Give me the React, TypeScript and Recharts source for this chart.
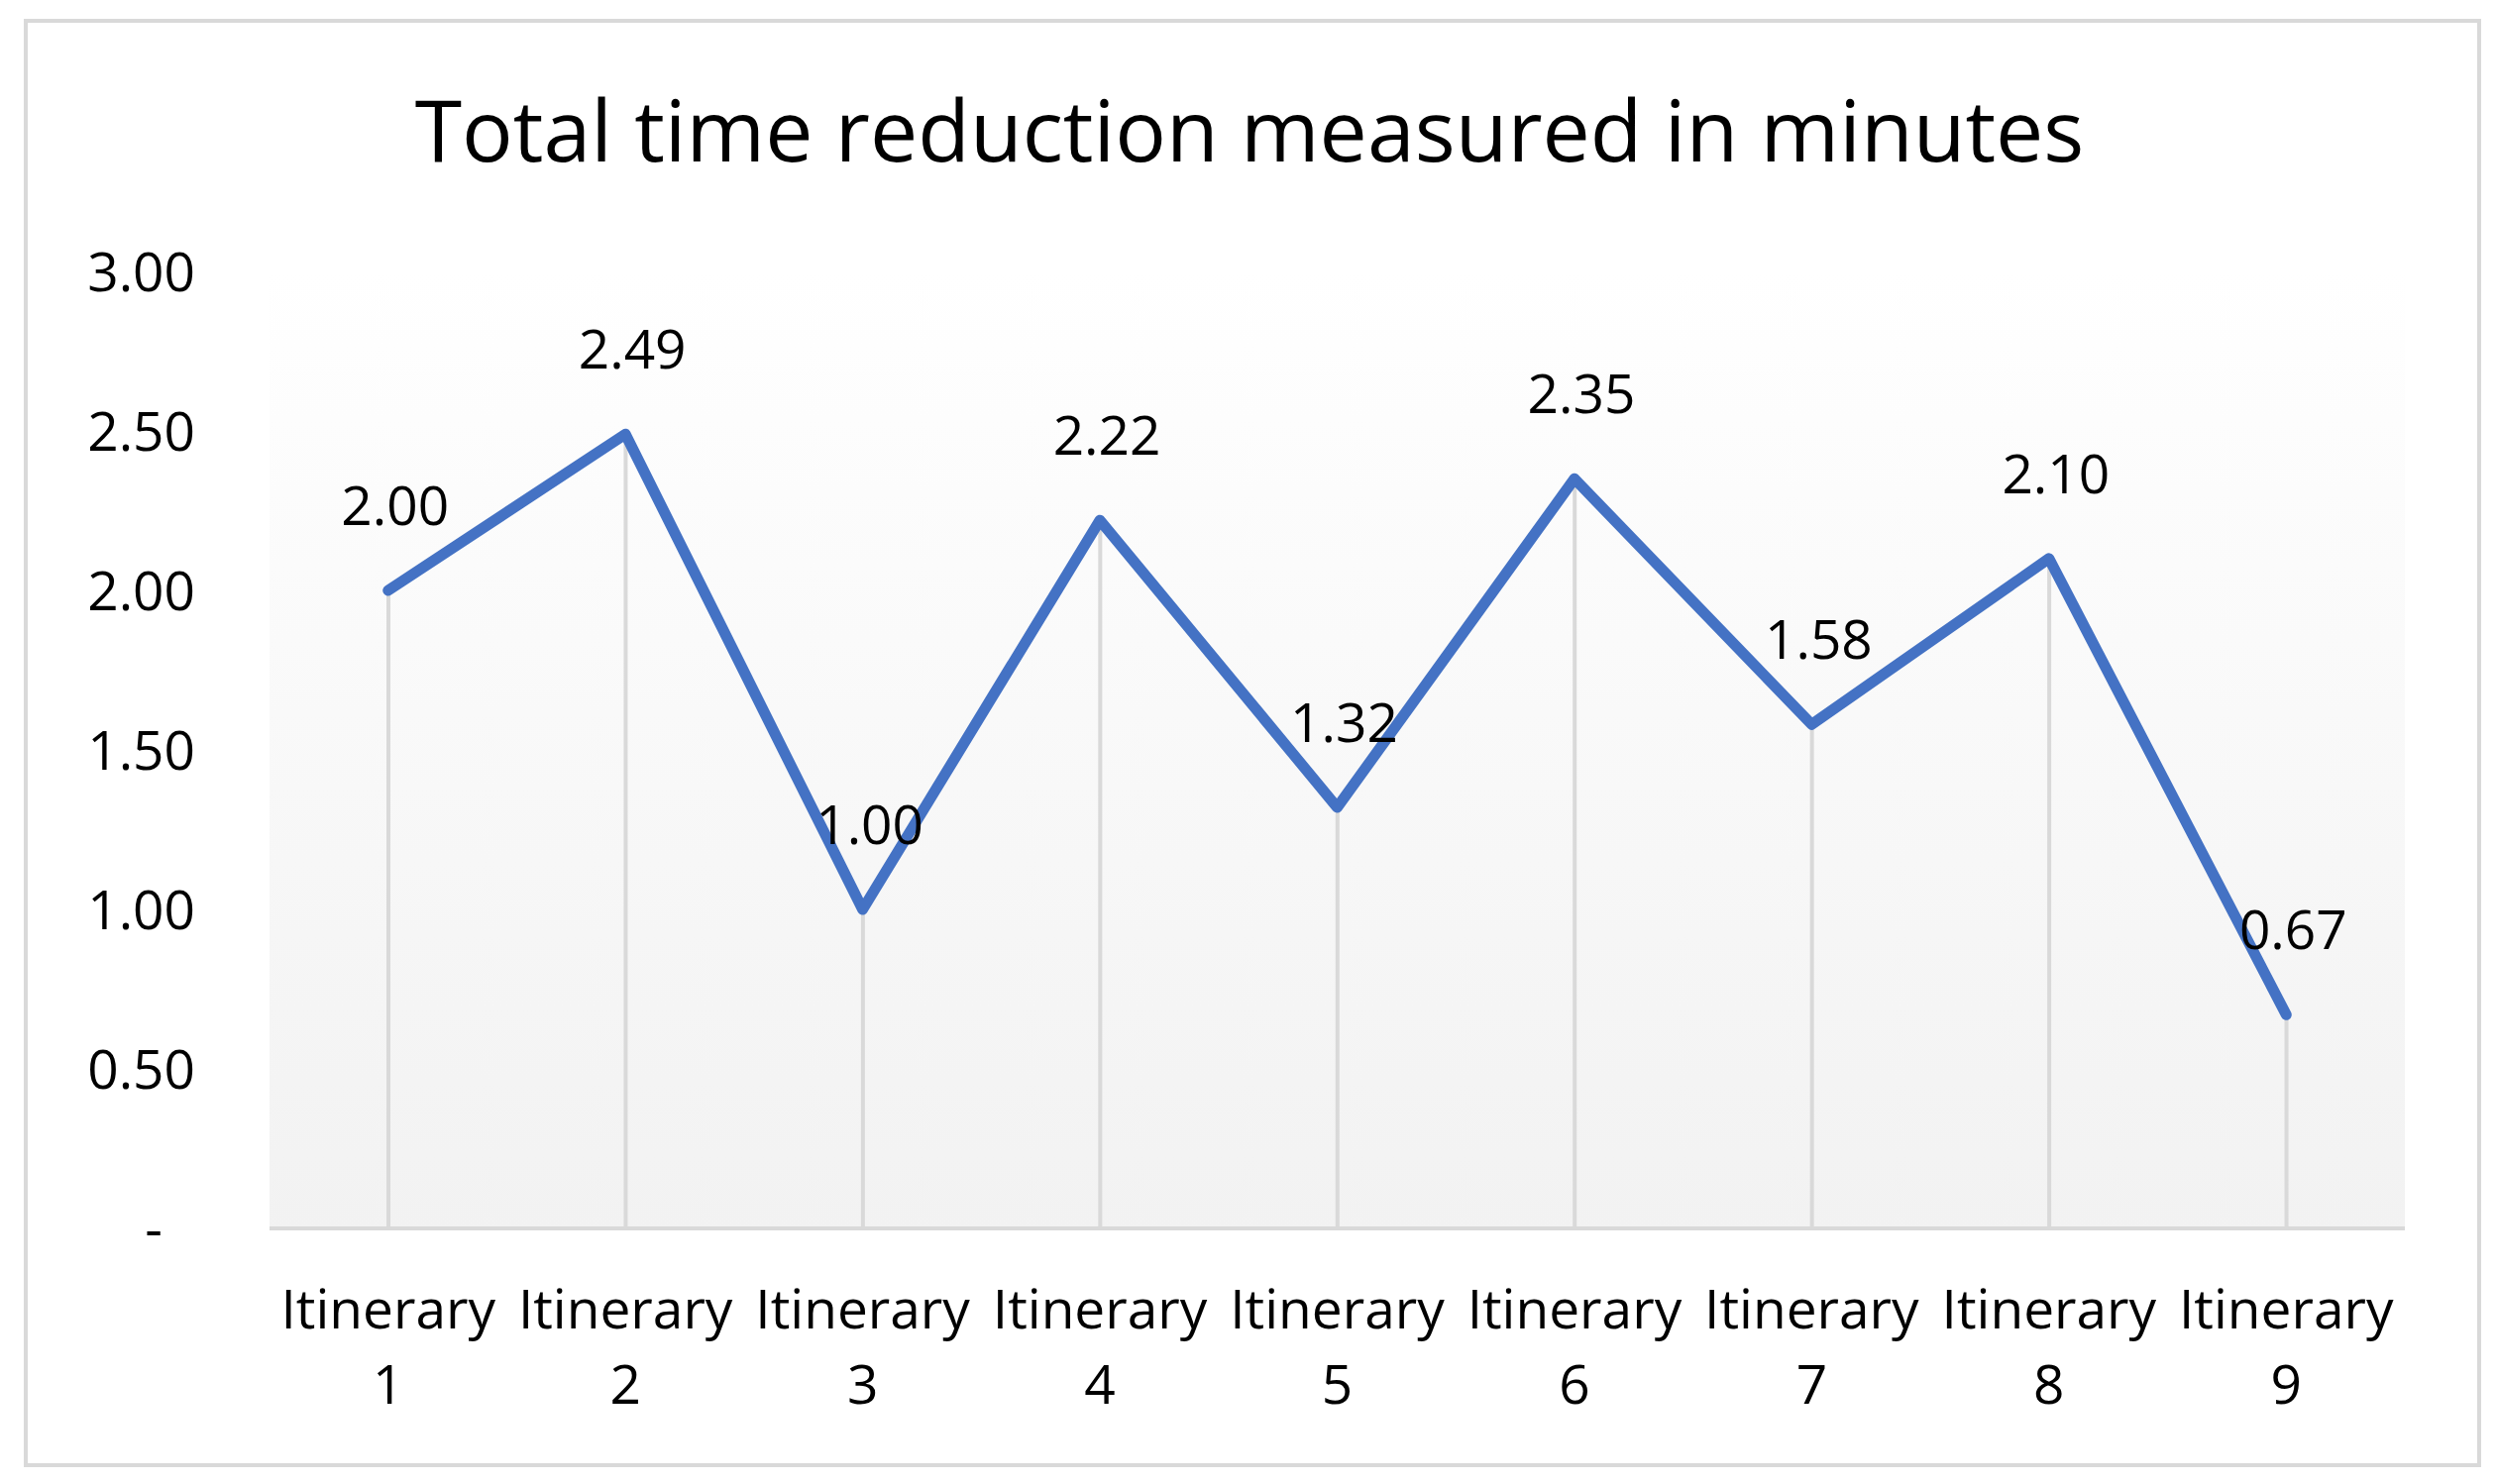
import React from 'react';
import {
  ComposedChart,
  Line,
  Bar,
  XAxis,
  YAxis,
  CartesianGrid,
  LabelList,
} from 'recharts';

const categories = [
  'Itinerary 1',
  'Itinerary 2',
  'Itinerary 3',
  'Itinerary 4',
  'Itinerary 5',
  'Itinerary 6',
  'Itinerary 7',
  'Itinerary 8',
  'Itinerary 9',
];
const reductions = [2.0, 2.49, 1.0, 2.22, 1.32, 2.35, 1.58, 2.1, 0.67];
const yTicks = [0, 0.5, 1, 1.5, 2, 2.5, 3];
const chartTitle = 'Total time reduction measured in minutes';

const data = categories.map((name, i) => ({ name, value: reductions[i] }));

const FONT = "'Open Sans', 'Noto Sans', sans-serif";

function YTick(props: any) {
  const { x, y, payload } = props;
  const v = payload.value as number;
  if (v === 0) {
    return (
      <text x={x - 33} y={y} dy="0.355em" textAnchor="end" fontSize={55} fontFamily={FONT} fill="#000">
        -
      </text>
    );
  }
  return (
    <text x={x} y={y} dy="0.355em" textAnchor="end" fontSize={55} fontFamily={FONT} fill="#000">
      {v.toFixed(2)}
    </text>
  );
}

function XTick(props: any) {
  const { x, y, payload } = props;
  const parts = String(payload.value).split(' ');
  return (
    <g>
      <text x={x} y={y + 101} textAnchor="middle" fontSize={55} fontFamily={FONT} fill="#000">
        {parts[0]}
      </text>
      <text x={x} y={y + 177} textAnchor="middle" fontSize={55} fontFamily={FONT} fill="#000">
        {parts[1]}
      </text>
    </g>
  );
}

function ValueLabel(props: any) {
  const x = props.x ?? props.viewBox?.x;
  const y = props.y ?? props.viewBox?.y;
  const w = props.width ?? 0;
  if (x == null || y == null) return null;
  return (
    <text x={x + w / 2 + 7} y={y - 66} textAnchor="middle" fontSize={55} fontFamily={FONT} fill="#000">
      {Number(props.value).toFixed(2)}
    </text>
  );
}

export default function App() {
  return (
    <div style={{ position: 'absolute', left: 0, top: 0, width: 2520, height: 1498, background: '#fff' }}>
      <div
        style={{
          position: 'absolute',
          left: 24,
          top: 19,
          width: 2480,
          height: 1462,
          boxSizing: 'border-box',
          border: '4px solid #d9d9d9',
        }}
      />
      <div style={{ position: 'absolute', left: 0, top: 0 }}>
        <ComposedChart
          width={2520}
          height={1498}
          data={data}
          margin={{ top: 274, right: 93, bottom: 0, left: 0 }}
        >
          <defs>
            <linearGradient id="plotBg" x1="0" y1="0" x2="0" y2="1">
              <stop offset="0%" stopColor="#ffffff" />
              <stop offset="100%" stopColor="#f2f2f2" />
            </linearGradient>
          </defs>
          <text x={1261} y={163} textAnchor="middle" fontSize={86} fontFamily={FONT} fill="#000">
            {chartTitle}
          </text>
          <CartesianGrid horizontal={false} vertical={false} fill="url(#plotBg)" />
          <XAxis
            dataKey="name"
            height={258}
            interval={0}
            tickSize={0}
            tickMargin={0}
            tick={<XTick />}
            axisLine={{ stroke: '#d9d9d9', strokeWidth: 4 }}
            tickLine={false}
          />
          <YAxis
            width={272}
            domain={[0, 3]}
            ticks={yTicks}
            tickSize={0}
            tickMargin={75}
            tick={<YTick />}
            axisLine={false}
            tickLine={false}
          />
          <Bar dataKey="value" barSize={4} fill="#d9d9d9" isAnimationActive={false} />
          <Line
            type="linear"
            dataKey="value"
            stroke="#4472C4"
            strokeWidth={11}
            strokeLinecap="round"
            strokeLinejoin="round"
            dot={false}
            activeDot={false}
            isAnimationActive={false}
          >
            <LabelList dataKey="value" content={<ValueLabel />} />
          </Line>
        </ComposedChart>
      </div>
    </div>
  );
}
